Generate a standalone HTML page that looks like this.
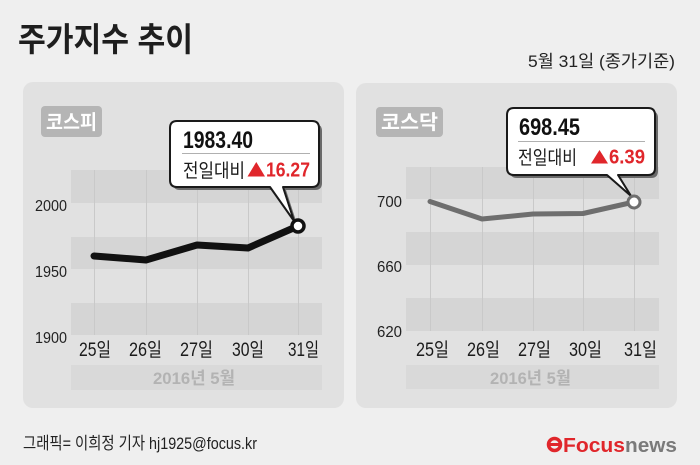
<!DOCTYPE html>
<html><head><meta charset="utf-8">
<style>
html,body{margin:0;padding:0;background:#efefef;}
svg{display:block;}
text{font-family:"Liberation Sans","Noto Sans CJK KR",sans-serif;}
</style></head>
<body>
<svg width="700" height="465" viewBox="0 0 700 465" xmlns="http://www.w3.org/2000/svg">
<rect x="0" y="0" width="700" height="465" fill="#efefef"/>
<!-- title -->
<text x="18" y="51" font-size="33" font-weight="bold" fill="#1e1e1e" textLength="175" lengthAdjust="spacingAndGlyphs">주가지수 추이</text>
<text x="528" y="67" font-size="17" fill="#222" textLength="147" lengthAdjust="spacingAndGlyphs">5월 31일 (종가기준)</text>

<!-- panels -->
<rect x="23" y="82" width="321" height="326" rx="10" fill="#e1e1e1"/>
<rect x="356" y="83" width="321" height="325" rx="10" fill="#e1e1e1"/>

<!-- labels -->
<rect x="41" y="106" width="61" height="31" rx="4" fill="#b5b5b5"/>
<text x="46" y="129" font-size="20" font-weight="bold" fill="#fff" textLength="51" lengthAdjust="spacingAndGlyphs">코스피</text>
<rect x="376" y="107" width="67" height="30" rx="4" fill="#b5b5b5"/>
<text x="381" y="129" font-size="20" font-weight="bold" fill="#fff" textLength="57" lengthAdjust="spacingAndGlyphs">코스닥</text>

<!-- left bands -->
<rect x="71" y="170" width="251" height="33" fill="#d5d5d5"/>
<rect x="71" y="237" width="251" height="32" fill="#d5d5d5"/>
<rect x="71" y="303" width="251" height="32" fill="#d5d5d5"/>
<g stroke="#c9c9c9" stroke-width="1">
<line x1="94.5" y1="170" x2="94.5" y2="335"/>
<line x1="146.5" y1="170" x2="146.5" y2="335"/>
<line x1="197.5" y1="170" x2="197.5" y2="335"/>
<line x1="248.5" y1="170" x2="248.5" y2="335"/>
<line x1="298.5" y1="170" x2="298.5" y2="335"/>
</g>
<g font-size="16" fill="#222" text-anchor="end">
<text x="67" y="211" textLength="32" lengthAdjust="spacingAndGlyphs">2000</text>
<text x="67" y="277" textLength="32" lengthAdjust="spacingAndGlyphs">1950</text>
<text x="67" y="343" textLength="32" lengthAdjust="spacingAndGlyphs">1900</text>
</g>
<g font-size="19" fill="#1a1a1a">
<text x="79" y="356" textLength="32" lengthAdjust="spacingAndGlyphs">25일</text>
<text x="129" y="356" textLength="33" lengthAdjust="spacingAndGlyphs">26일</text>
<text x="180" y="356" textLength="33" lengthAdjust="spacingAndGlyphs">27일</text>
<text x="232" y="356" textLength="32" lengthAdjust="spacingAndGlyphs">30일</text>
<text x="288" y="356" textLength="31" lengthAdjust="spacingAndGlyphs">31일</text>
</g>
<rect x="71" y="365" width="251" height="25" fill="#d9d9d9"/>
<text x="153" y="384" font-size="17" font-weight="bold" fill="#b3b3b3" textLength="82" lengthAdjust="spacingAndGlyphs">2016년 5월</text>

<!-- right bands -->
<rect x="406" y="167" width="253" height="32" fill="#d5d5d5"/>
<rect x="406" y="232" width="253" height="33" fill="#d5d5d5"/>
<rect x="406" y="298" width="253" height="33" fill="#d5d5d5"/>
<g stroke="#c9c9c9" stroke-width="1">
<line x1="430.5" y1="167" x2="430.5" y2="331"/>
<line x1="482.5" y1="167" x2="482.5" y2="331"/>
<line x1="533.5" y1="167" x2="533.5" y2="331"/>
<line x1="583.5" y1="167" x2="583.5" y2="331"/>
<line x1="634.5" y1="167" x2="634.5" y2="331"/>
</g>
<g font-size="16" fill="#222" text-anchor="end">
<text x="402" y="207" textLength="25" lengthAdjust="spacingAndGlyphs">700</text>
<text x="402" y="272" textLength="25" lengthAdjust="spacingAndGlyphs">660</text>
<text x="402" y="337" textLength="25" lengthAdjust="spacingAndGlyphs">620</text>
</g>
<g font-size="19" fill="#1a1a1a">
<text x="416" y="356" textLength="33" lengthAdjust="spacingAndGlyphs">25일</text>
<text x="467" y="356" textLength="33" lengthAdjust="spacingAndGlyphs">26일</text>
<text x="518" y="356" textLength="33" lengthAdjust="spacingAndGlyphs">27일</text>
<text x="569" y="356" textLength="33" lengthAdjust="spacingAndGlyphs">30일</text>
<text x="624" y="356" textLength="33" lengthAdjust="spacingAndGlyphs">31일</text>
</g>
<rect x="406" y="365" width="253" height="24" fill="#d9d9d9"/>
<text x="490" y="384" font-size="17" font-weight="bold" fill="#b3b3b3" textLength="81" lengthAdjust="spacingAndGlyphs">2016년 5월</text>

<!-- lines -->
<polyline points="94,256 146,260 197,245 248,248 298,226" fill="none" stroke="#111" stroke-width="7" stroke-linecap="round" stroke-linejoin="round"/>
<polyline points="430,201.5 482,219 533,214 583,213.5 634,202" fill="none" stroke="#6e6e6e" stroke-width="5" stroke-linecap="round" stroke-linejoin="round"/>

<!-- left callout -->
<path transform="translate(3,3)" d="M177,121 H312 Q319,121 319,128 V180 Q319,187 312,187 H283 L294,221 L270,187 H177 Q170,187 170,180 V128 Q170,121 177,121 Z" fill="#6a6a6a"/>
<path d="M177,121 H312 Q319,121 319,128 V180 Q319,187 312,187 H283 L294,221 L270,187 H177 Q170,187 170,180 V128 Q170,121 177,121 Z" fill="#fff" stroke="#1a1a1a" stroke-width="2" stroke-linejoin="round"/>
<text x="183" y="148" font-size="24" font-weight="bold" fill="#111" textLength="70" lengthAdjust="spacingAndGlyphs">1983.40</text>
<line x1="182" y1="153.5" x2="310" y2="153.5" stroke="#b0b0b0" stroke-width="1"/>
<text x="183" y="177" font-size="19" fill="#1a1a1a" textLength="62" lengthAdjust="spacingAndGlyphs">전일대비</text>
<polygon points="247.5,176.5 265,176.5 256.3,162" fill="#e0262b"/>
<text x="266" y="176.5" font-size="20" font-weight="bold" fill="#e0262b" textLength="44" lengthAdjust="spacingAndGlyphs">16.27</text>

<!-- right callout -->
<path transform="translate(3,3)" d="M514,108 H648 Q655,108 655,115 V168 Q655,175 648,175 H618 L631,196 L607,175 H514 Q507,175 507,168 V115 Q507,108 514,108 Z" fill="#6a6a6a"/>
<path d="M514,108 H648 Q655,108 655,115 V168 Q655,175 648,175 H618 L631,196 L607,175 H514 Q507,175 507,168 V115 Q507,108 514,108 Z" fill="#fff" stroke="#1a1a1a" stroke-width="2" stroke-linejoin="round"/>
<text x="519" y="135" font-size="24" font-weight="bold" fill="#111" textLength="61" lengthAdjust="spacingAndGlyphs">698.45</text>
<line x1="518" y1="141.5" x2="645" y2="141.5" stroke="#b0b0b0" stroke-width="1"/>
<text x="518" y="164" font-size="19" fill="#1a1a1a" textLength="59" lengthAdjust="spacingAndGlyphs">전일대비</text>
<polygon points="591,163.5 608,163.5 599.5,150" fill="#e0262b"/>
<text x="609" y="163.5" font-size="20" font-weight="bold" fill="#e0262b" textLength="36" lengthAdjust="spacingAndGlyphs">6.39</text>

<!-- markers -->
<circle cx="298" cy="226" r="6" fill="#fff" stroke="#111" stroke-width="3.5"/>
<circle cx="634" cy="202" r="6" fill="#fff" stroke="#6e6e6e" stroke-width="3"/>

<!-- footer -->
<text x="23" y="449" font-size="17" fill="#222" textLength="234" lengthAdjust="spacingAndGlyphs">그래픽= 이희정 기자 hj1925@focus.kr</text>

<!-- logo -->
<g>
<circle cx="554.5" cy="444.5" r="6" fill="none" stroke="#e0262b" stroke-width="3.5"/>
<rect x="550" y="443" width="9" height="3" fill="#e0262b"/>
<text x="563" y="452" font-size="20" font-weight="bold" fill="#e0262b" textLength="62" lengthAdjust="spacingAndGlyphs">Focus</text>
<text x="625" y="452" font-size="20" font-weight="bold" fill="#7a7a7a" textLength="52" lengthAdjust="spacingAndGlyphs">news</text>
</g>
</svg>
</body></html>
